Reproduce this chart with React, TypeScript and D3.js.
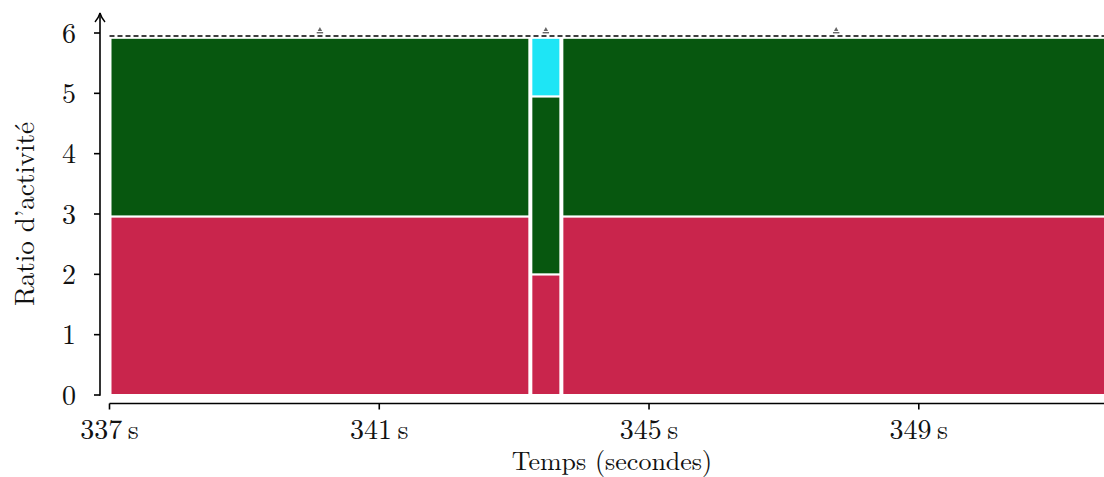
import React from "react";
import * as d3 from "d3";

const segStart = [337, 343.24, 343.7];
const segEnd = [343.24, 343.7, 351.85];
const redVals = [2.96, 2.0, 2.96];
const greenVals = [2.96, 2.95, 2.96];
const cyanVals = [0, 0.97, 0];
const seriesKeys = ["red", "green", "cyan"];
const seriesColors = ["#c9254c", "#07570f", "#1ee5f5"];
const xTicks = [337, 341, 345, 349];
const yTicks = [0, 1, 2, 3, 4, 5, 6];
const refValue = 5.95;

const W = 1104, H = 477;
const FONT = "'Latin Modern Roman','CMU Serif','Liberation Serif',serif";

export default function App() {
  const x = d3.scaleLinear().domain([337, 351.85]).range([109.5, 1111]);
  const y = d3.scaleLinear().domain([0, 6]).range([395, 33]);
  const rows = segStart.map((s, i) => ({ s, e: segEnd[i], red: redVals[i], green: greenVals[i], cyan: cyanVals[i] }));
  const stack = d3.stack<any>().keys(seriesKeys)(rows);
  const axisX = 100;
  const axisY = 403.5;
  return (
    <svg width={W} height={H} style={{ position: "absolute", left: 0, top: 0, overflow: "hidden", display: "block" }} fontFamily={FONT}>
      {stack.map((layer, li) => (
        <g key={layer.key}>
          {layer.map((d, i) => d[1] - d[0] > 0 ? (
            <rect key={i} x={x(rows[i].s) + 1} y={y(d[1])} width={x(rows[i].e) - x(rows[i].s) - 2} height={y(d[0]) - y(d[1])}
              fill={seriesColors[li]} stroke="#fff" strokeWidth={2} />
          ) : null)}
        </g>
      ))}
      {/* dashed reference */}
      <line x1={x(337)} x2={x(351.85)} y1={y(refValue)} y2={y(refValue)} stroke="#000" strokeWidth={1.6} strokeDasharray="5,3" />
      {rows.map((r, i) => {
        const cx = x((r.s + r.e) / 2);
        const cy = y(refValue) - 6;
        return (
          <g key={i} fill="#666">
            <path d={`M${cx - 2.2},${cy + 1}L${cx},${cy - 3}L${cx + 2.2},${cy + 1}Z`} />
            <rect x={cx - 3.2} y={cy + 2} width={6.4} height={1.4} />
          </g>
        );
      })}
      {/* y axis */}
      <line x1={axisX} x2={axisX} y1={y(0) + 0.75} y2={13} stroke="#000" strokeWidth={1.6} />
      <path d={`M${axisX - 5},${22}Q${axisX - 1},${17} ${axisX},${13}Q${axisX + 1},${17} ${axisX + 5},${22}`} fill="none" stroke="#000" strokeWidth={1.4} />
      {yTicks.map(t => (
        <g key={t}>
          <line x1={axisX - 6} x2={axisX} y1={y(t)} y2={y(t)} stroke="#000" strokeWidth={1.6} />
          <text x={76} y={y(t)} dy="0.35em" textAnchor="end" fontSize={28} fill="#111">{t}</text>
        </g>
      ))}
      <text transform={`translate(34,${y(3)}) rotate(-90)`} textAnchor="middle" fontSize={27} fill="#111">Ratio d’activité</text>
      {/* x axis */}
      <line x1={x(337)} x2={x(351.85)} y1={axisY} y2={axisY} stroke="#000" strokeWidth={1.6} />
      {xTicks.map(t => (
        <g key={t}>
          <line x1={x(t)} x2={x(t)} y1={axisY} y2={axisY + 6} stroke="#000" strokeWidth={1.6} />
          <text x={x(t)} y={439} textAnchor="middle" fontSize={28} fill="#111">{`${t}\u2009s`}</text>
        </g>
      ))}
      <text x={612} y={469.5} textAnchor="middle" fontSize={26} fill="#111">Temps (secondes)</text>
    </svg>
  );
}
